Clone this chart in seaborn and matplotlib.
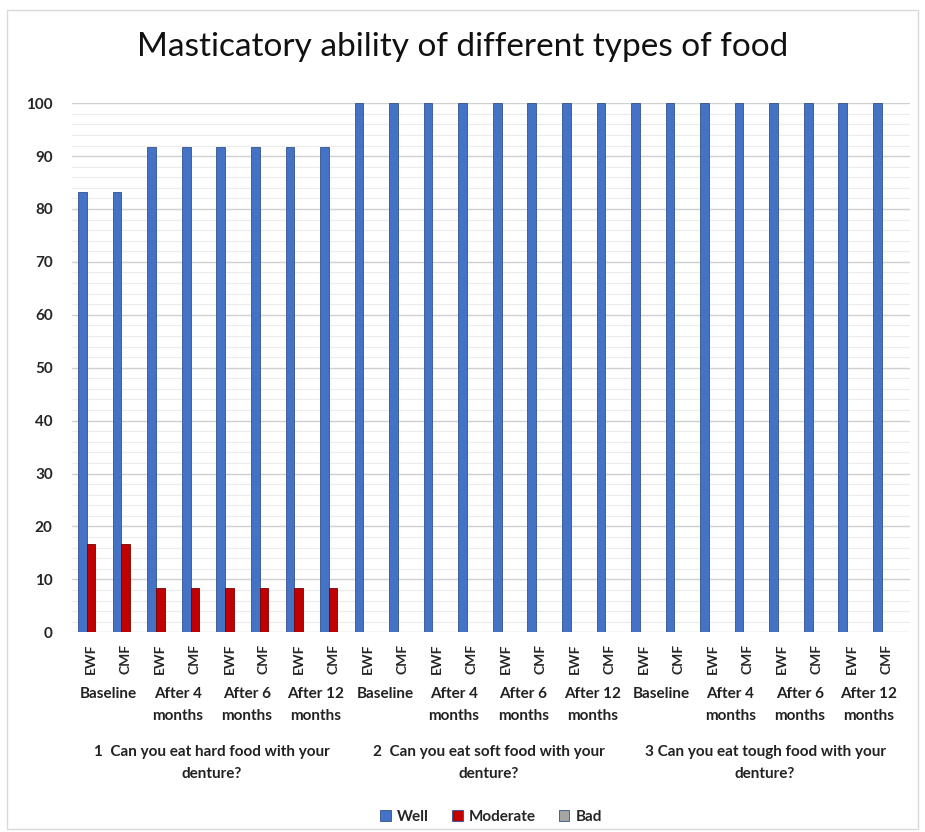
import seaborn as sns
import matplotlib.pyplot as plt
import pandas as pd
from matplotlib.patches import Rectangle

# data
questions = ["1  Can you eat hard food with your\ndenture?",
             "2  Can you eat soft food with your\ndenture?",
             "3 Can you eat tough food with your\ndenture?"]
times = ["Baseline", "After 4\nmonths", "After 6\nmonths", "After 12\nmonths"]
groups = ["EWF", "CMF"]
series = ["Well", "Moderate", "Bad"]

well = [83.3, 83.3, 91.7, 91.7, 91.7, 91.7, 91.7, 91.7,
        100, 100, 100, 100, 100, 100, 100, 100,
        100, 100, 100, 100, 100, 100, 100, 100]
moderate = [16.7, 16.7, 8.3, 8.3, 8.3, 8.3, 8.3, 8.3,
            0, 0, 0, 0, 0, 0, 0, 0,
            0, 0, 0, 0, 0, 0, 0, 0]
bad = [0] * 24

slots = []
slot_labels = []
for q in range(len(questions)):
    for t in range(len(times)):
        for g in groups:
            slots.append(f"q{q}_t{t}_{g}")
            slot_labels.append(g)

rows = []
for i, s in enumerate(slots):
    rows.append({"slot": s, "series": "Well", "value": well[i]})
    rows.append({"slot": s, "series": "Moderate", "value": moderate[i]})
    rows.append({"slot": s, "series": "Bad", "value": bad[i]})
df = pd.DataFrame(rows)

sns.set_theme(style="white")
plt.rcParams['font.family'] = ['Lato', 'DejaVu Sans']

fig = plt.figure(figsize=(9.25, 8.32), dpi=100)
ax = fig.add_axes([0.078, 0.240, 0.906, 0.636])

colors = {"Well": "#4472C4", "Moderate": "#C00000", "Bad": "#A5A5A5"}
sns.barplot(data=df, x="slot", y="value", hue="series", order=slots,
            hue_order=series, palette=colors, width=0.75, saturation=1, ax=ax,
            edgecolor="#2F528F", linewidth=0.6, legend=True)
for bar, s in zip(ax.patches, [x for x in series for _ in slots]):
    if s == "Moderate":
        bar.set_edgecolor("#7a0000")
    elif s == "Bad":
        bar.set_edgecolor("#808080")

ax.set_ylim(0, 100)
ax.set_xlim(-0.55, len(slots) - 0.3)
ax.set_yticks(range(0, 101, 10))
ax.set_yticks(range(0, 101, 2), minor=True)
ax.yaxis.grid(True, which="major", color="#d0d0d0", linewidth=1.0)
ax.yaxis.grid(True, which="minor", color="#ececec", linewidth=0.8)
ax.set_axisbelow(True)
for sp in ax.spines.values():
    sp.set_visible(False)
ax.tick_params(axis="y", which="both", length=0, pad=14, labelsize=11)
for lab in ax.get_yticklabels():
    lab.set_fontweight("bold")
ax.set_xticks(range(len(slots)))
ax.set_xticklabels(slot_labels, rotation=90, fontsize=10, fontweight="bold")
ax.tick_params(axis="x", length=0, pad=8)
ax.set_xlabel("")
ax.set_ylabel("")

# time labels and question labels under the ticks
trans = ax.get_xaxis_transform()
for q in range(len(questions)):
    for t in range(len(times)):
        c = q * 8 + t * 2 + 0.5
        ax.text(c, -0.103, times[t], transform=trans, ha="center", va="top",
                fontsize=11, fontweight="bold", linespacing=1.75, color="#222222")
    ax.text(q * 8 + 3.5, -0.212, questions[q], transform=trans, ha="center",
            va="top", fontsize=11, fontweight="bold", linespacing=1.75,
            color="#222222")

leg = ax.legend(loc="upper center", bbox_to_anchor=(0.5, -0.31), ncol=3,
                frameon=False, fontsize=11, handlelength=0.7, handleheight=0.7,
                columnspacing=1.5, handletextpad=0.4)
for t in leg.get_texts():
    t.set_fontweight("bold")

fig.suptitle("Masticatory ability of different types of food", y=0.962,
             fontsize=24, color="#111111")

fig.patches.append(Rectangle((0.008, 0.004), 0.984, 0.984, transform=fig.transFigure,
                             fill=False, edgecolor="#d9d9d9", linewidth=1))

plt.savefig("out.png", dpi=100)
